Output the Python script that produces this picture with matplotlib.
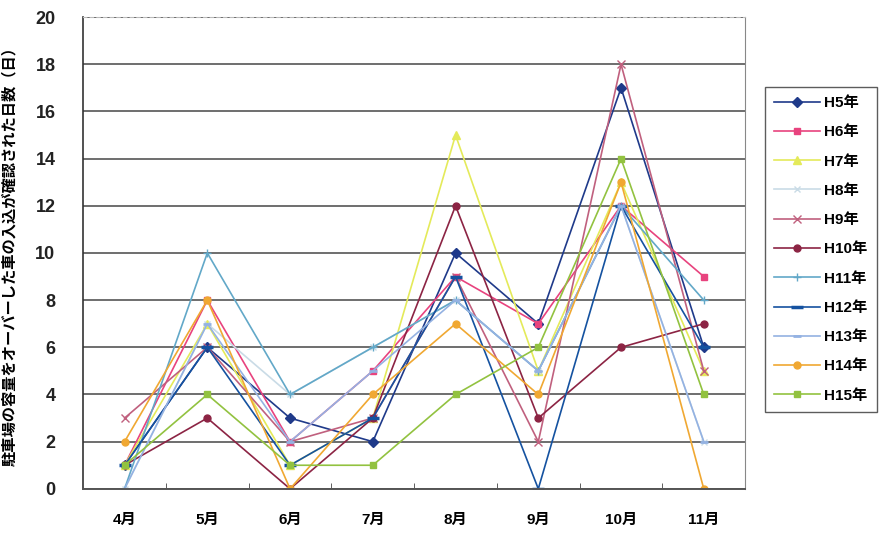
import matplotlib
matplotlib.use("Agg")
import matplotlib.pyplot as plt
from matplotlib.ticker import MultipleLocator

plt.rcParams['font.family'] = ['Liberation Sans', 'Noto Sans CJK JP', 'DejaVu Sans']

months = ['4月', '5月', '6月', '7月', '8月', '9月', '10月', '11月']
years = ['H5年', 'H6年', 'H7年', 'H8年', 'H9年', 'H10年',
         'H11年', 'H12年', 'H13年', 'H14年', 'H15年']

h5 = [1, 6, 3, 2, 10, 7, 17, 6]
h6 = [1, 8, 2, 5, 9, 7, 12, 9]
h7 = [1, 7, 1, 3, 15, 5, 13, 5]
h8 = [0, 7, 4, 6, 8, 5, 12, 2]
h9 = [3, 6, 2, 3, 9, 2, 18, 5]
h10 = [1, 3, 0, 3, 12, 3, 6, 7]
h11 = [0, 10, 4, 6, 8, 5, 12, 8]
h12 = [1, 6, 1, 3, 9, 0, 12, 6]
h13 = [0, 7, 2, 5, 8, 5, 12, 2]
h14 = [2, 8, 0, 4, 7, 4, 13, 0]
h15 = [1, 4, 1, 1, 4, 6, 14, 4]
series = [h5, h6, h7, h8, h9, h10, h11, h12, h13, h14, h15]

styles = [
    dict(color='#1f3a8a', marker='D', ms=5),
    dict(color='#e8437e', marker='s', ms=5),
    dict(color='#e4ea5a', marker='^', ms=6),
    dict(color='#c9dbe6', marker='x', ms=5),
    dict(color='#c0607e', marker='x', ms=6),
    dict(color='#8c2444', marker='o', ms=5),
    dict(color='#62a8c8', marker='+', ms=6),
    dict(color='#1552a0', marker='_', ms=8, mew=2.5),
    dict(color='#94b2e2', marker='_', ms=6, mew=2),
    dict(color='#f0a832', marker='o', ms=5),
    dict(color='#92c240', marker='s', ms=5),
]

fig = plt.figure(figsize=(8.85, 5.36), dpi=100)
ax = fig.add_axes([0.094, 0.088, 0.748, 0.880])

x = list(range(len(months)))
for name, vals, st in zip(years, series, styles):
    ax.plot(x, vals, lw=1.2, label=name, **st)

ax.set_xlim(-0.5, len(months) - 0.5)
ax.set_ylim(0, 20)
ax.yaxis.set_major_locator(MultipleLocator(2))
ax.set_xticks(x)
ax.set_xticklabels(months, fontweight='bold', fontsize=11)
ax.set_xticks([i + 0.5 for i in x[:-1]], minor=True)
ax.tick_params(axis='x', which='major', length=0, pad=17)
ax.tick_params(axis='x', which='minor', length=4, direction='in', color='#444444')
ax.tick_params(axis='y', length=0, pad=20, labelsize=13)
for lab in ax.get_yticklabels():
    lab.set_fontweight('bold')
    lab.set_color('#222222')

ax.grid(axis='y', color='#555555', lw=1.2)
ax.set_axisbelow(True)
ax.spines['left'].set_color('#333333')
ax.spines['left'].set_linewidth(1.2)
ax.spines['bottom'].set_color('#555555')
ax.spines['bottom'].set_linewidth(1.4)
ax.spines['right'].set_color('#888888')
ax.spines['top'].set_color('#bbbbbb')
ax.spines['top'].set_linestyle((0, (3, 3)))

ax.set_ylabel('駐車場の容量をオーバーした車の入込が確認された日数（日）',
              fontsize=11, fontweight='bold',
              family=['Noto Sans CJK JP', 'DejaVu Sans'])
ax.yaxis.set_label_coords(-0.1, 0.5)

leg = fig.legend(loc='upper left', bbox_to_anchor=(0.864, 0.838),
                 fontsize=11, frameon=True, fancybox=False,
                 edgecolor='#333333', labelspacing=1.0,
                 handlelength=3.0, borderpad=0.6, handletextpad=0.3,
                 borderaxespad=0)
for t in leg.get_texts():
    t.set_fontweight('bold')
leg.get_frame().set_linewidth(1.0)

fig.savefig('out.png', dpi=100)
